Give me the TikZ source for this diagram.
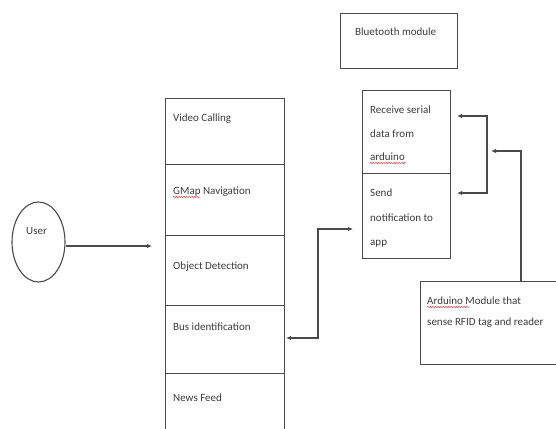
\documentclass[tikz,border=0pt]{standalone}
\usepackage{fontspec}
\setmainfont{Carlito}
\usetikzlibrary{arrows.meta,decorations.pathmorphing,shapes.geometric}
\definecolor{ln}{HTML}{4A4A4A}
\definecolor{tx}{HTML}{3C3C3C}
\tikzset{
  box/.style={draw=ln, line width=1.1pt, minimum width=0pt, inner sep=0pt, anchor=north west},
  lbl/.style={anchor=base west, inner sep=0pt, text=tx, font=\fontsize{11}{13}\selectfont},
  conn/.style={draw=ln, line width=1.1pt, -{Latex[length=5pt,width=4.5pt]}},
  conn2/.style={draw=ln, line width=1.1pt, {Latex[length=5pt,width=4.5pt]}-{Latex[length=5pt,width=4.5pt]}},
  squig/.style={draw=red!75, line width=0.5pt, decorate, decoration={snake, amplitude=0.7pt, segment length=2.6pt}}
}
\begin{document}
\begin{tikzpicture}[x=1pt,y=-1pt]
\useasboundingbox (0,0) rectangle (556,428);
\fill[white] (0,0) rectangle (556,428);
% Bluetooth module
\node[box, minimum width=117pt, minimum height=55pt] (bt) at (340,13) {};
\node[lbl] (btt) at (355,36) {Bluetooth module};
% left column
\node[box, minimum width=119pt, minimum height=66pt] (vc) at (165,98) {};
\node[box, minimum width=119pt, minimum height=71pt] (gm) at (165,164) {};
\node[box, minimum width=119pt, minimum height=70pt] (od) at (165,235) {};
\node[box, minimum width=119pt, minimum height=68pt] (bi) at (165,305) {};
\node[box, minimum width=119pt, minimum height=70pt] (nf) at (165,373) {};
\node[lbl] (vct) at (173,121) {Video Calling};
\node[lbl] (gmt) at (173,194.5) {GMap Navigation};
\node[lbl] (odt) at (173,269.5) {Object Detection};
\node[lbl] (bit) at (173,330) {Bus identification};
\node[lbl] (nft) at (173,401) {News Feed};
% user
\node[draw=ln, line width=1.1pt, ellipse, minimum width=53pt, minimum height=80pt, inner sep=0pt] (user) at (38.5,242) {};
\node[lbl] (usert) at (26,234.5) {User};
% right column
\node[box, minimum width=88pt, minimum height=83pt] (rs) at (362,90) {};
\node[box, minimum width=88pt, minimum height=85pt] (sn) at (362,173) {};
\node[lbl] (rs1) at (370,113.5) {Receive serial};
\node[lbl] (rs2) at (370,137) {data from};
\node[lbl] (rs3) at (370,160.5) {arduino};
\node[lbl] (sn1) at (370,196.5) {Send};
\node[lbl] (sn2) at (370,221.5) {notification to};
\node[lbl] (sn3) at (370,245.5) {app};
% arduino module
\node[box, minimum width=160pt, minimum height=83pt] (ard) at (419.5,281) {};
\node[lbl] (ard1) at (427,304.5) {Arduino Module that};
\node[lbl] (ard2) at (427,325.5) {sense RFID tag and reader};
% spell-check marks
\draw[squig] (gmt.base west) ++(0,2.5) -- ++(27,0);
\draw[squig] (rs3.base west) ++(0,2.5) -- ++(36,0);
\draw[squig] (ard1.base west) ++(0,2.5) -- ++(42,0);
% connectors
\coordinate (ua) at (152,246);
\draw[conn] (user.east |- ua) -- (ua);
\coordinate (b1) at (286,338);
\coordinate (b2) at (353,229);
\coordinate (bj) at (318,338);
\draw[conn2] (b1) -- (bj) |- (b2);
\coordinate (r1) at (457,116);
\coordinate (r2) at (457,193);
\coordinate (rj1) at (487,116);
\coordinate (rj2) at (487,193);
\draw[conn2] (r1) -- (rj1) -- (rj2) -- (r2);
\coordinate (r3) at (491,151);
\coordinate (aj) at (521,151);
\draw[conn] (ard.north -| aj) -- (aj) -- (r3);
\end{tikzpicture}
\end{document}
